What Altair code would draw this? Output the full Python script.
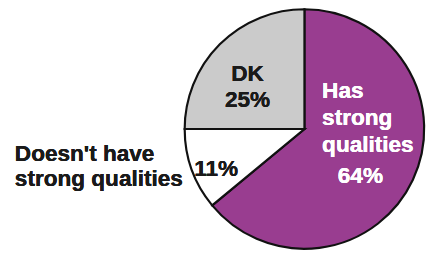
import altair as alt
import pandas as pd

categories = ["Has strong qualities", "Doesn't have strong qualities", "DK"]
values = [64, 11, 25]
colors = ["#993d90", "#ffffff", "#cbcbcb"]

df = pd.DataFrame({"category": categories, "value": values, "idx": [0, 1, 2]})

CX, CY, R = 302, 121, 122

pie = alt.Chart(df).mark_arc(stroke="#111111", strokeWidth=2.2).encode(
    theta=alt.Theta("value:Q", stack=True),
    color=alt.Color("category:N", scale=alt.Scale(domain=categories, range=colors), legend=None),
    order=alt.Order("idx:Q"),
    x=alt.value(CX),
    y=alt.value(CY),
    radius=alt.value(R),
)

FONT = "Liberation Sans"

def txt(s, x, y, align="center", color="#1a1a1a"):
    return alt.Chart(df).mark_text(
        font=FONT, fontSize=23, fontWeight="bold", align=align, baseline="middle", color=color
    ).encode(x=alt.value(x), y=alt.value(y), text=alt.value(s))

labels = [
    txt("DK", 244, 65),
    txt(f"{values[2]}%", 244, 92),
    txt("Has", 320, 82, align="left", color="white"),
    txt("strong", 320, 110, align="left", color="white"),
    txt("qualities", 320, 137, align="left", color="white"),
    txt(f"{values[0]}%", 359, 169, color="white"),
    txt(f"{values[1]}%", 212, 162),
    txt("Doesn't have", 7, 147, align="left"),
    txt("strong qualities", 7, 172, align="left"),
]

chart = alt.layer(pie, *labels).properties(
    width=434, height=246, autosize=alt.AutoSizeParams(type="none"), padding=0
).configure(background="white").configure_view(stroke=None)

chart.save("out.html", embed_options={"renderer": "svg", "actions": False})
